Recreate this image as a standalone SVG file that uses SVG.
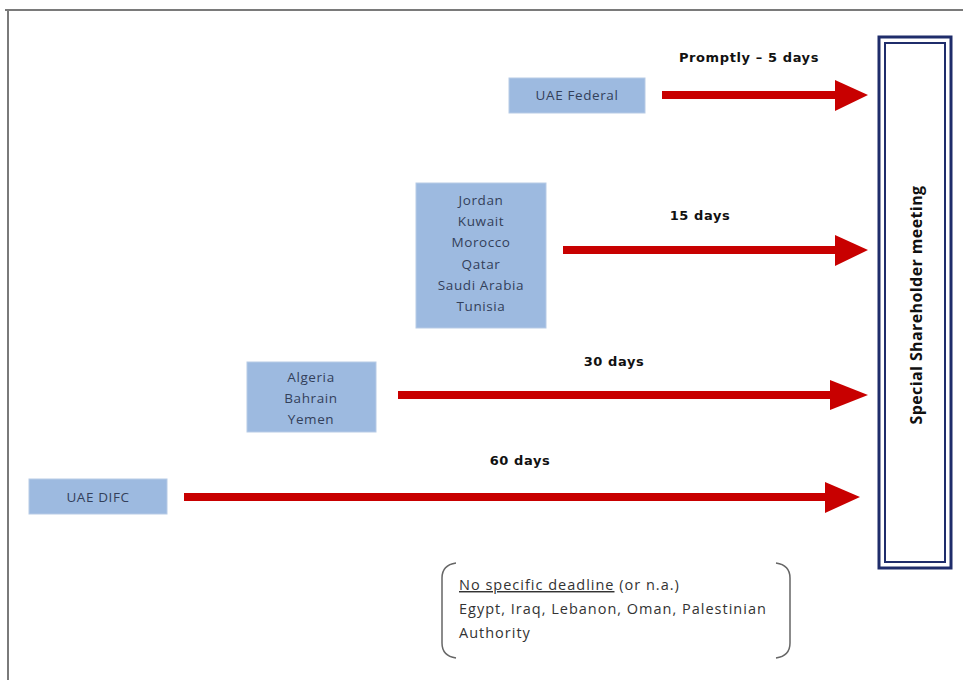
<svg xmlns="http://www.w3.org/2000/svg" width="963" height="680" viewBox="0 0 963 680">
<defs>
<style>
.box{fill:#9dbae0;stroke:#b7cbe6;stroke-width:1}
.bt{font-family:"Open Sans","Liberation Sans",sans-serif;font-size:13.5px;letter-spacing:0.6px;fill:#33405a;text-anchor:middle;dominant-baseline:central}
.lbl{font-family:"DejaVu Sans","Liberation Sans",sans-serif;font-weight:bold;font-size:13px;letter-spacing:0.6px;fill:#111;text-anchor:middle}
.shaft{stroke:#c80000;stroke-width:8;fill:none}
.head{fill:#c80000}
.note{font-family:"Open Sans","Liberation Sans",sans-serif;font-size:14.5px;letter-spacing:1px;fill:#333}
</style>
</defs>
<rect width="963" height="680" fill="#fff"/>
<g id="frame" stroke="#7a7a7a" stroke-width="2" fill="none">
<line x1="5" y1="10" x2="963" y2="10"/>
<line x1="8" y1="10" x2="8" y2="680"/>
</g>
<g id="uae-federal">
<rect class="box" x="509" y="78" width="136" height="35"/>
<text class="bt" x="577" y="95">UAE Federal</text>
</g>
<g id="group-15">
<rect class="box" x="416" y="183" width="130" height="145"/>
<text class="bt" x="481" y="200">Jordan</text>
<text class="bt" x="481" y="221">Kuwait</text>
<text class="bt" x="481" y="242">Morocco</text>
<text class="bt" x="481" y="264">Qatar</text>
<text class="bt" x="481" y="285">Saudi Arabia</text>
<text class="bt" x="481" y="306">Tunisia</text>
</g>
<g id="group-30">
<rect class="box" x="247" y="362" width="129" height="70"/>
<text class="bt" x="311" y="377">Algeria</text>
<text class="bt" x="311" y="398">Bahrain</text>
<text class="bt" x="311" y="419">Yemen</text>
</g>
<g id="uae-difc">
<rect class="box" x="29" y="479" width="138" height="35"/>
<text class="bt" x="98" y="497">UAE DIFC</text>
</g>
<g id="meeting">
<rect x="879" y="37" width="72" height="531" fill="#fff" stroke="#1f2d6b" stroke-width="3"/>
<rect x="885" y="43" width="60" height="519" fill="#fff" stroke="#1f2d6b" stroke-width="2"/>
<text x="0" y="0" transform="translate(922 305) rotate(-90)" font-family="'Open Sans','Liberation Sans',sans-serif" font-weight="bold" font-size="16" letter-spacing="0.4" fill="#111" text-anchor="middle">Special Shareholder meeting</text>
</g>
<g id="connectors">
<line class="shaft" x1="662" y1="95" x2="837" y2="95"/>
<polygon class="head" points="835,80 868,95 835,111"/>
<text class="lbl" x="749" y="62">Promptly – 5 days</text>
<line class="shaft" x1="563" y1="250" x2="837" y2="250"/>
<polygon class="head" points="835,235 868,250 835,266"/>
<text class="lbl" x="700" y="220">15 days</text>
<line class="shaft" x1="398" y1="395" x2="832" y2="395"/>
<polygon class="head" points="830,380 868,395 830,410"/>
<text class="lbl" x="614" y="366">30 days</text>
<line class="shaft" x1="184" y1="497" x2="827" y2="497"/>
<polygon class="head" points="825,482 860,497 825,513"/>
<text class="lbl" x="520" y="465">60 days</text>
</g>
<g id="no-deadline">
<path d="M456,563 Q442,565 442,578 L442,643 Q442,656 456,658" fill="none" stroke="#666" stroke-width="1.5"/>
<path d="M776,563 Q790,565 790,578 L790,643 Q790,656 776,658" fill="none" stroke="#666" stroke-width="1.5"/>
<text class="note" x="459" y="590"><tspan text-decoration="underline">No specific deadline</tspan> (or n.a.)</text>
<text class="note" x="459" y="614">Egypt, Iraq, Lebanon, Oman, Palestinian</text>
<text class="note" x="459" y="638">Authority</text>
</g>
</svg>
